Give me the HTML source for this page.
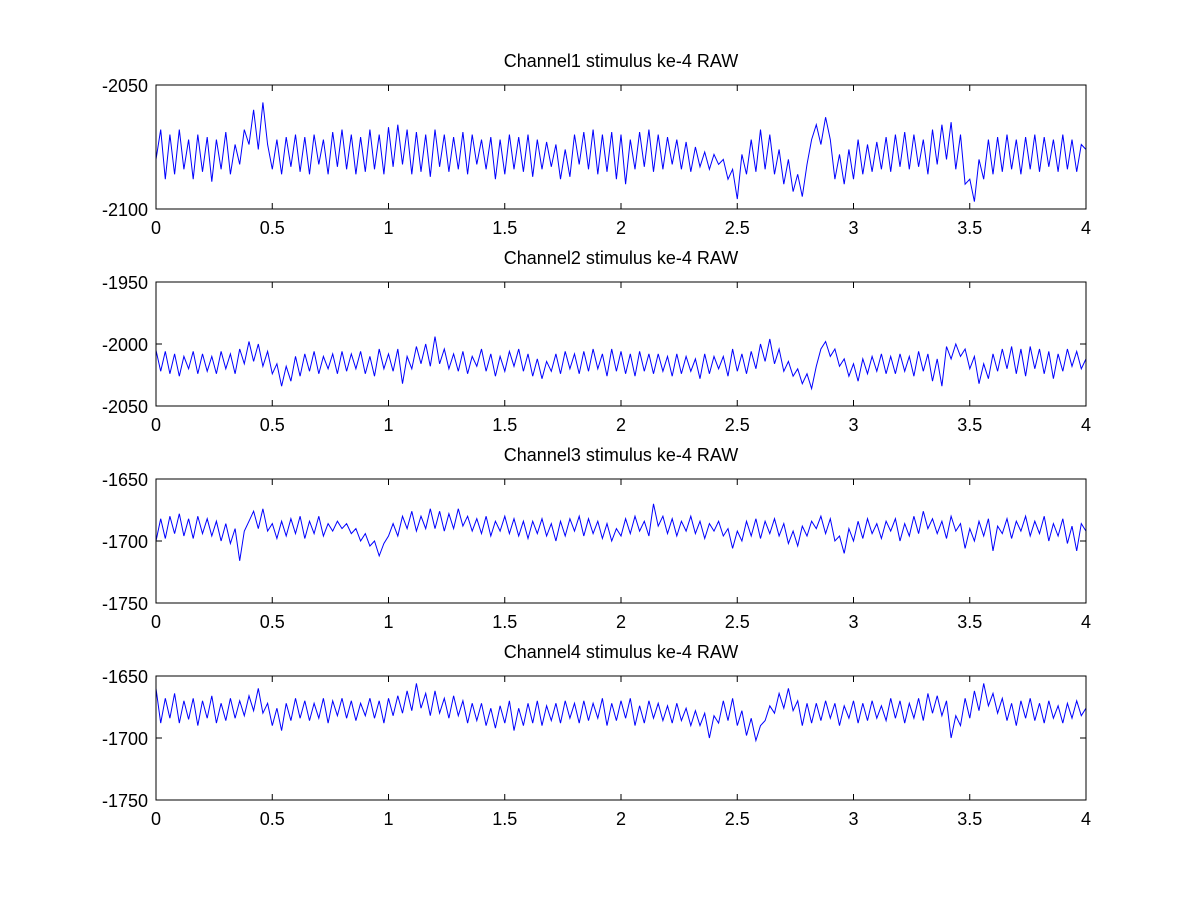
<!DOCTYPE html>
<html><head><meta charset="utf-8"><style>
html,body{margin:0;padding:0;background:#fff;}
svg{display:block;font-family:"Liberation Sans",Arial,sans-serif;}
</style></head><body>
<svg id="fig" width="1200" height="900"></svg>
<script>
const xTicks = [0,0.5,1,1.5,2,2.5,3,3.5,4];
const xTickLabels = ["0","0.5","1","1.5","2","2.5","3","3.5","4"];
const titles = ["Channel1 stimulus ke-4 RAW","Channel2 stimulus ke-4 RAW","Channel3 stimulus ke-4 RAW","Channel4 stimulus ke-4 RAW"];
const yRanges = [[-2100,-2050],[-2050,-1950],[-1750,-1650],[-1750,-1650]];
const yTicks1 = [-2100,-2050];
const yTicks2 = [-2050,-2000,-1950];
const yTicks3 = [-1750,-1700,-1650];
const yTicks4 = [-1750,-1700,-1650];
const tMax = 4;
const ch1 = [-2080,-2068,-2088,-2070,-2086,-2068,-2084,-2072,-2088,-2070,-2085,-2071,-2089,-2072,-2084,-2069,-2086,-2074,-2082,-2068,-2074,
 -2060,-2076,-2057,-2074,-2084,-2072,-2086,-2071,-2083,-2070,-2085,-2071,-2086,-2070,-2082,-2072,-2086,-2069,-2083,-2068,
 -2084,-2070,-2086,-2071,-2085,-2068,-2084,-2070,-2086,-2067,-2083,-2066,-2082,-2068,-2086,-2069,-2085,-2070,-2087,-2068,
 -2083,-2070,-2085,-2071,-2084,-2069,-2086,-2070,-2082,-2072,-2084,-2071,-2088,-2072,-2086,-2070,-2084,-2071,-2085,-2070,
 -2087,-2072,-2084,-2073,-2083,-2074,-2088,-2076,-2087,-2070,-2082,-2069,-2084,-2068,-2086,-2070,-2085,-2069,-2088,-2070,
 -2090,-2072,-2084,-2069,-2083,-2068,-2085,-2070,-2084,-2071,-2082,-2072,-2084,-2073,-2085,-2075,-2083,-2077,-2084,-2078,
 -2082,-2080,-2088,-2084,-2096,-2078,-2086,-2072,-2085,-2068,-2084,-2070,-2086,-2076,-2090,-2080,-2093,-2086,-2095,-2082,
 -2072,-2066,-2074,-2063,-2072,-2088,-2078,-2090,-2076,-2088,-2072,-2086,-2074,-2085,-2073,-2084,-2071,-2085,-2070,-2083,
 -2069,-2084,-2070,-2083,-2072,-2086,-2068,-2082,-2066,-2080,-2065,-2084,-2070,-2090,-2088,-2097,-2080,-2088,-2072,-2086,
 -2071,-2085,-2070,-2084,-2072,-2086,-2071,-2084,-2070,-2085,-2071,-2083,-2072,-2085,-2070,-2084,-2072,-2085,-2074,-2076];
const ch2 = [-2005,-2022,-2006,-2024,-2008,-2026,-2010,-2020,-2006,-2024,-2008,-2022,-2010,-2024,-2006,-2020,-2008,-2024,-2004,-2016,-1998,
 -2014,-2000,-2018,-2006,-2024,-2016,-2034,-2018,-2030,-2010,-2026,-2008,-2022,-2006,-2024,-2010,-2020,-2008,-2024,-2006,
 -2022,-2008,-2020,-2006,-2024,-2010,-2026,-2004,-2020,-2008,-2022,-2004,-2032,-2010,-2020,-2002,-2016,-2000,-2018,-1994,
 -2016,-2004,-2020,-2008,-2022,-2006,-2024,-2010,-2018,-2004,-2022,-2008,-2026,-2010,-2022,-2006,-2018,-2004,-2022,-2008,
 -2026,-2012,-2028,-2014,-2022,-2008,-2024,-2006,-2020,-2008,-2024,-2006,-2022,-2004,-2020,-2008,-2026,-2004,-2022,-2006,
 -2024,-2008,-2026,-2006,-2022,-2008,-2024,-2008,-2022,-2010,-2026,-2008,-2024,-2010,-2022,-2012,-2028,-2008,-2024,-2010,
 -2020,-2010,-2026,-2004,-2022,-2008,-2024,-2006,-2020,-2000,-2014,-1996,-2016,-2004,-2022,-2014,-2026,-2020,-2032,-2024,
 -2036,-2018,-2004,-1998,-2010,-2004,-2018,-2012,-2026,-2016,-2030,-2012,-2024,-2010,-2022,-2008,-2024,-2010,-2024,-2008,
 -2022,-2010,-2026,-2006,-2022,-2008,-2030,-2012,-2034,-2002,-2012,-2000,-2010,-2004,-2020,-2010,-2032,-2016,-2028,-2008,
 -2022,-2004,-2020,-2002,-2024,-2004,-2026,-2002,-2020,-2004,-2024,-2006,-2028,-2008,-2022,-2004,-2018,-2006,-2020,-2012];
const ch3 = [-1700,-1682,-1698,-1680,-1694,-1678,-1696,-1682,-1698,-1680,-1694,-1682,-1696,-1684,-1700,-1686,-1702,-1690,-1716,-1692,-1684,
 -1676,-1690,-1674,-1692,-1686,-1698,-1684,-1696,-1682,-1694,-1680,-1698,-1684,-1694,-1680,-1696,-1686,-1692,-1684,-1690,
 -1686,-1694,-1690,-1700,-1694,-1704,-1700,-1712,-1702,-1696,-1686,-1696,-1680,-1690,-1676,-1692,-1680,-1690,-1674,-1690,
 -1676,-1692,-1678,-1690,-1674,-1688,-1680,-1692,-1682,-1694,-1680,-1696,-1684,-1692,-1680,-1694,-1682,-1696,-1684,-1698,
 -1684,-1694,-1682,-1696,-1686,-1700,-1684,-1696,-1682,-1692,-1680,-1696,-1682,-1694,-1684,-1698,-1686,-1700,-1690,-1696,
 -1682,-1694,-1680,-1692,-1684,-1696,-1670,-1688,-1680,-1694,-1682,-1696,-1684,-1692,-1680,-1694,-1684,-1698,-1686,-1692,
 -1684,-1696,-1690,-1706,-1692,-1700,-1684,-1696,-1682,-1698,-1684,-1694,-1682,-1696,-1686,-1702,-1692,-1704,-1688,-1696,
 -1684,-1690,-1680,-1694,-1682,-1700,-1696,-1710,-1690,-1700,-1684,-1698,-1682,-1694,-1686,-1698,-1684,-1692,-1682,-1700,
 -1686,-1696,-1680,-1694,-1676,-1690,-1682,-1694,-1684,-1698,-1680,-1692,-1686,-1706,-1690,-1700,-1684,-1696,-1682,-1708,
 -1688,-1694,-1682,-1698,-1684,-1692,-1680,-1696,-1684,-1694,-1680,-1700,-1686,-1696,-1682,-1702,-1688,-1708,-1686,-1692];
const ch4 = [-1660,-1688,-1668,-1684,-1664,-1688,-1670,-1685,-1668,-1690,-1670,-1684,-1666,-1688,-1672,-1686,-1668,-1684,-1670,-1682,-1666,
 -1678,-1660,-1680,-1672,-1690,-1676,-1694,-1672,-1686,-1668,-1684,-1670,-1686,-1672,-1684,-1668,-1688,-1670,-1682,-1668,
 -1684,-1670,-1686,-1672,-1682,-1668,-1684,-1670,-1688,-1668,-1682,-1666,-1680,-1662,-1678,-1656,-1676,-1664,-1682,-1662,
 -1680,-1668,-1684,-1666,-1682,-1670,-1688,-1672,-1686,-1672,-1690,-1676,-1692,-1674,-1688,-1670,-1694,-1676,-1690,-1672,
 -1688,-1670,-1690,-1674,-1686,-1672,-1688,-1670,-1684,-1672,-1688,-1670,-1686,-1672,-1684,-1668,-1690,-1672,-1686,-1670,
 -1684,-1668,-1690,-1674,-1688,-1670,-1684,-1672,-1686,-1674,-1688,-1672,-1686,-1676,-1690,-1678,-1690,-1680,-1700,-1682,
 -1688,-1670,-1686,-1668,-1690,-1678,-1698,-1684,-1702,-1690,-1686,-1674,-1680,-1664,-1676,-1660,-1678,-1670,-1690,-1672,
 -1688,-1672,-1686,-1670,-1684,-1672,-1690,-1674,-1684,-1670,-1688,-1672,-1686,-1670,-1684,-1674,-1686,-1668,-1684,-1670,
 -1688,-1672,-1684,-1668,-1686,-1664,-1680,-1666,-1682,-1670,-1700,-1682,-1690,-1668,-1684,-1662,-1678,-1656,-1674,-1664,
 -1680,-1668,-1686,-1672,-1690,-1670,-1684,-1668,-1686,-1672,-1688,-1670,-1684,-1674,-1688,-1672,-1684,-1670,-1682,-1676];
const yTickSets = [yTicks1,yTicks2,yTicks3,yTicks4];
const series = [ch1,ch2,ch3,ch4];

const NS = "http://www.w3.org/2000/svg";
const svg = document.getElementById('fig');
const L = 156, R = 1086;
const tops = [85,282,479,676], H = 124;
function mk(tag, attrs, parent){const e=document.createElementNS(NS,tag);for(const k in attrs)e.setAttribute(k,attrs[k]);(parent||svg).appendChild(e);return e;}
function xS(v){return L + v/4*(R-L);}
for(let p=0;p<4;p++){
  const top=tops[p], bot=top+H;
  const [y0,y1]=yRanges[p];
  const yS=v=>bot-(v-y0)/(y1-y0)*H;
  const g=mk('g',{});
  
  
  const s=series[p];
  const pts=s.map((v,i)=>xS(i*tMax/(s.length-1)).toFixed(1)+','+yS(v).toFixed(1)).join(' ');
  const line=mk('polyline',{points:pts,fill:'none',stroke:'#0000ff','stroke-width':1},g);
  
  
  const box=mk('rect',{x:L,y:top,width:R-L,height:H,fill:'none',stroke:'#000','stroke-width':1},g);
  
  
  xTicks.forEach((t,i)=>{
    const x=xS(t);
    mk('line',{x1:x,x2:x,y1:bot,y2:bot-6,stroke:'#000'},g);
    mk('line',{x1:x,x2:x,y1:top,y2:top+6,stroke:'#000'},g);
    const tx=mk('text',{x:x,y:bot+25,'font-size':18,'text-anchor':'middle'},g);
    tx.textContent=xTickLabels[i];
    
    
  });
  yTickSets[p].forEach(v=>{
    const y=yS(v);
    mk('line',{x1:L,x2:L+6,y1:y,y2:y,stroke:'#000'},g);
    mk('line',{x1:R,x2:R-6,y1:y,y2:y,stroke:'#000'},g);
    const tx=mk('text',{x:L-8,y:y+7,'font-size':18,'text-anchor':'end'},g);
    tx.textContent=String(v);
    
    
  });
  const tt=mk('text',{x:(L+R)/2,y:top-18,'font-size':18,'text-anchor':'middle'},g);
  tt.textContent=titles[p];
  
  
}
</script>
</body></html>
